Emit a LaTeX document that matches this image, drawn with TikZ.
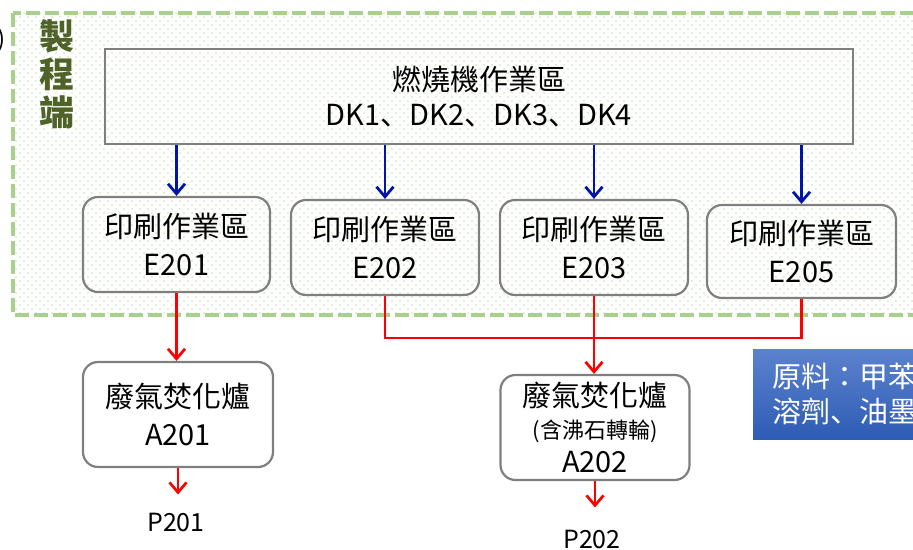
\documentclass[tikz,border=0pt]{standalone}
\usepackage{fontspec}
\setmainfont{Noto Sans CJK TC}
\newfontfamily\jpfont{Noto Sans CJK JP}
\usetikzlibrary{arrows.meta,patterns}
\definecolor{FrameGreen}{RGB}{169,209,142}
\definecolor{DotGreen}{RGB}{188,220,165}
\definecolor{TitleGreen}{RGB}{79,98,40}
\definecolor{BoxGray}{RGB}{127,127,127}
\definecolor{FeedBlue}{RGB}{0,20,170}
\definecolor{NoteTop}{RGB}{92,130,206}
\definecolor{NoteBottom}{RGB}{46,92,180}
\def\bigfont{\fontsize{29}{38}\selectfont}
\def\dun{{\jpfont 、}}

% staggered dots of the process side
\pgfdeclarepatternformonly{greendots}{\pgfqpoint{-1pt}{-1pt}}{\pgfqpoint{5pt}{5pt}}{\pgfqpoint{8pt}{8pt}}{
  \pgfpathrectangle{\pgfqpoint{-0.7pt}{-0.7pt}}{\pgfqpoint{1.4pt}{1.4pt}}
  \pgfpathrectangle{\pgfqpoint{3.3pt}{3.3pt}}{\pgfqpoint{1.4pt}{1.4pt}}
  \pgfusepath{fill}}

\begin{document}
\begin{tikzpicture}[x=1pt,y=-1pt,
  area/.style={draw=BoxGray, line width=2.2pt, rounded corners=15pt, align=center,
    font=\bigfont, inner sep=0pt},
  feed/.style={FeedBlue, line width=2.8pt,
    -{Straight Barb[length=10pt,width=17pt,line width=2.8pt]}},
  gasline/.style={red, line width=2.7pt},
  gas/.style={gasline, -{Straight Barb[length=10pt,width=17pt,line width=2.7pt]}},
  stack/.style={font=\fontsize{25}{28}\selectfont, inner sep=0pt}]
  \useasboundingbox (0,0) rectangle (913,549);
  \clip (0,0) rectangle (913,549);

  \draw[FrameGreen, line width=4pt, dash pattern=on 14pt off 5pt,
    pattern=greendots, pattern color=DotGreen] (12.5,12.5) rectangle (940,314.5);
  \node[font=\fontsize{24}{24}\selectfont, anchor=east, inner sep=0pt] (cut) at (6,40) {)};
  \node[font=\fontsize{35}{38}\selectfont\bfseries, text=TitleGreen, align=center] (side) at (57,74) {製\\程\\端};

  \node[area, rounded corners=0pt, minimum width=748pt, minimum height=95pt,
    font=\fontsize{29}{35}\selectfont] (burner) at (479,96.5)
    {\rule{0pt}{3pt}燃燒機作業區\\DK1\dun DK2\dun DK3\dun DK4};
  \node[area, minimum width=187pt, minimum height=95pt] (e201) at (176.5,244.5) {印刷作業區\\E201};
  \node[area, minimum width=188pt, minimum height=95pt] (e202) at (385,247.5) {印刷作業區\\E202};
  \node[area, minimum width=188pt, minimum height=95pt] (e203) at (594,247.5) {印刷作業區\\E203};
  \node[area, minimum width=189pt, minimum height=93pt] (e205) at (801.5,251.5) {印刷作業區\\E205};

  \node[area, fill=white, minimum width=190pt, minimum height=105pt] (a201) at (178,414.5)
    {廢氣焚化爐\\A201};
  \node[area, fill=white, minimum width=189pt, minimum height=105pt] (a202) at (595,427.5)
    {廢氣焚化爐\\[-6pt]{\fontsize{22}{26}\selectfont (含沸石轉輪)}\\[-4pt]A202};
  \node[stack] (p201) at (176,522) {P201};
  \node[stack] (p202) at (592,539) {P202};

  \node[anchor=north west, top color=NoteTop, bottom color=NoteBottom, text=white,
    font=\fontsize{29}{35}\selectfont, text width=280pt, align=left, inner xsep=19pt,
    inner ysep=0pt, minimum height=90pt] (material) at (753,349) {原料：甲苯\\溶劑\dun 油墨};

  \foreach \e in {e201,e202,e203,e205}
    \draw[feed] (\e.north |- burner.south) -- (\e.north);

  \draw[gas] (e201.south) -- (e201.south |- a201.north);
  \draw[gas, shorten >=18pt] (a201.south) -- (a201.south |- p201.north);
  \coordinate (join) at (e203.south |- 0,338);
  \draw[gasline] (e202.south) |- (join) -| (e205.south);
  \draw[gas] (e203.south) -- (e203.south |- a202.north);
  \draw[gas, shorten >=22pt] (a202.south) -- (a202.south |- p202.north);
\end{tikzpicture}
\end{document}
